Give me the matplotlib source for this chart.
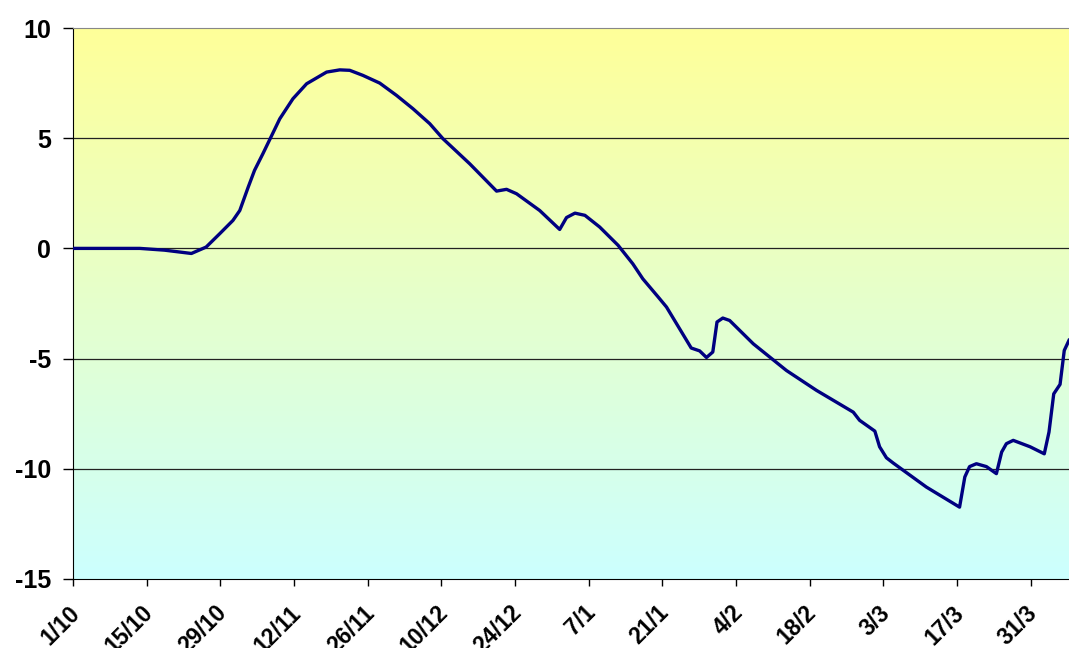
import numpy as np
import matplotlib
matplotlib.use("Agg")
import matplotlib.pyplot as plt
import matplotlib.transforms as mtransforms
from datetime import date, timedelta

# day offsets from 1/10 and the plotted values
start = date(2007, 10, 1)
days = [0, 12.7, 17.4, 22.5, 25.3, 27.9, 30.4, 31.7, 33.3, 34.5, 36.1, 39.3, 41.8, 44.4,
        48.2, 50.7, 52.6, 55.1, 58.3, 61.5, 64.6, 67.8, 70.3, 75.4, 80.5, 82.4, 84.3,
        88.7, 92.5, 93.8, 95.4, 97.3, 100.1, 103.6, 106.4, 108.3, 111.2, 112.8, 117.5,
        119.1, 120.4, 121.6, 122.4, 123.5, 124.8, 129.3, 135.6, 141.3, 148.3, 149.5,
        152.4, 153.3, 154.6, 155.9, 162.2, 168.5, 169.5, 170.4, 171.7, 173.6, 175.5,
        176.5, 177.4, 178.7, 181.9, 184.6, 185.5, 186.4, 187.6, 188.4, 189.3]
values = [0.0, 0.0, -0.08, -0.23, 0.06, 0.67, 1.27, 1.72, 2.78, 3.54, 4.3, 5.88, 6.79, 7.47,
          8.0, 8.1, 8.08, 7.85, 7.5, 6.94, 6.34, 5.66, 4.98, 3.84, 2.6, 2.68, 2.48,
          1.72, 0.86, 1.4, 1.6, 1.5, 0.97, 0.14, -0.7, -1.38, -2.2, -2.66, -4.52,
          -4.65, -4.95, -4.7, -3.34, -3.16, -3.27, -4.33, -5.54, -6.44, -7.43, -7.8,
          -8.29, -9.0, -9.5, -9.74, -10.83, -11.74, -10.37, -9.9, -9.77, -9.9, -10.22,
          -9.24, -8.86, -8.71, -9.0, -9.32, -8.33, -6.6, -6.17, -4.63, -4.17]
tick_days = list(range(0, 183, 14))
tick_labels = [f"{(start + timedelta(days=d)).day}/{(start + timedelta(days=d)).month}" for d in tick_days]
y_ticks = [-15, -10, -5, 0, 5, 10]

plt.rcParams['font.family'] = ['Liberation Sans', 'DejaVu Sans']

fig = plt.figure(figsize=(10.69, 6.48), dpi=100)
ax = fig.add_axes([73 / 1069, 1 - 579 / 648, 1 - 73 / 1069, (579 - 28) / 648])

# background gradient yellow -> cyan
top = np.array([255, 255, 153]) / 255
bot = np.array([204, 255, 255]) / 255
t = np.linspace(0, 1, 256)[:, None]
grad = (top * (1 - t) + bot * t)[:, None, :]
ax.imshow(grad, extent=[0, 1, 0, 1], transform=ax.transAxes, aspect='auto', zorder=0)

for yv in [-10, -5, 0, 5]:
    ax.axhline(yv, color='#222222', lw=0.9, zorder=1)

ax.plot(days, values, color='#000080', lw=2.4, zorder=3, solid_joinstyle='round')

ax.set_xlim(0, 189.3)
ax.set_ylim(-15, 10)
ax.set_yticks(y_ticks)
ax.set_yticklabels([str(v) for v in y_ticks], fontsize=18, fontweight='bold')
ax.set_xticks(tick_days)
ax.set_xticklabels(tick_labels, fontsize=16.5, fontweight='bold', rotation=45,
                   ha='right', va='top', rotation_mode='anchor')
ax.tick_params(axis='y', length=7, width=1, pad=9)
ax.tick_params(axis='x', length=5, width=1, pad=11)

# nudge the date labels a little to the left, like the original
shift = mtransforms.ScaledTranslation(-5 / 100, 0, fig.dpi_scale_trans)
for lab in ax.get_xticklabels():
    lab.set_transform(lab.get_transform() + shift)

ax.spines['right'].set_visible(False)
ax.spines['top'].set_color('#888888')
ax.spines['left'].set_color('black')
ax.spines['bottom'].set_color('black')

fig.savefig('out.png', dpi=100)
